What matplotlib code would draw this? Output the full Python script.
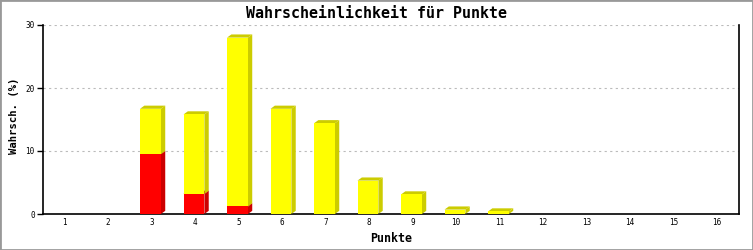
import matplotlib.pyplot as plt
from matplotlib.patches import Polygon, Rectangle

# data
punkte = list(range(1, 17))
rot = [0, 0, 9.5, 3.2, 1.2, 0, 0, 0, 0, 0, 0, 0, 0, 0, 0, 0]
gelb = [0, 0, 7.2, 12.6, 26.8, 16.7, 14.4, 5.3, 3.1, 0.7, 0.4, 0, 0, 0, 0, 0]

# 3d look
w = 0.48
dx, dy = 0.1, 0.5

fig = plt.figure(figsize=(7.53, 2.5), dpi=100)
ax = fig.add_axes([43/753, 36/250, 696/753, 189/250])
mono = 'DejaVu Sans Mono'


def bar3d(x, bottom, h, face, side):
    if h <= 0:
        return
    x0, x1 = x - w/2 - 0.03, x + w/2 - 0.03
    y0, y1 = bottom, bottom + h
    ax.add_patch(Polygon([(x1, y0), (x1 + dx, y0 + dy), (x1 + dx, y1 + dy), (x1, y1)],
                         closed=True, facecolor=side, edgecolor='none', zorder=3))
    ax.add_patch(Polygon([(x0, y1), (x0 + dx, y1 + dy), (x1 + dx, y1 + dy), (x1, y1)],
                         closed=True, facecolor=side, edgecolor='none', zorder=3))
    ax.add_patch(Rectangle((x0, y0), x1 - x0, h, facecolor=face, edgecolor='none', zorder=4))


for p, r, g in zip(punkte, rot, gelb):
    bar3d(p, 0, r, '#ff0000', '#cc0000')
    bar3d(p, r, g, '#ffff00', '#cccc00')

ax.set_xlim(0.5, 16.5)
ax.set_ylim(0, 30)
ax.set_xticks(punkte)
ax.set_yticks([0, 10, 20, 30])
ax.tick_params(axis='x', length=0, labelsize=5.5, pad=3)
ax.tick_params(axis='y', length=4, width=1, labelsize=5.5, pad=2)
for lab in ax.get_xticklabels() + ax.get_yticklabels():
    lab.set_family(mono)

ax.grid(axis='y', color='#bbbbbb', linestyle=(0, (2, 3)), linewidth=0.8)
ax.set_axisbelow(True)
ax.spines['top'].set_visible(False)
for s in ['left', 'bottom', 'right']:
    ax.spines[s].set_linewidth(1.2)

fig.text(0.5, 0.948, 'Wahrscheinlichkeit für Punkte', ha='center', va='center',
         family=mono, fontweight='bold', fontsize=10.8)
fig.text(391/753, 1 - 239/250, 'Punkte', ha='center', va='center',
         family=mono, fontweight='bold', fontsize=8.4)
fig.text(14/753, 1 - 116/250, 'Wahrsch. (%)', ha='center', va='center', rotation=90,
         family=mono, fontweight='bold', fontsize=7.6)

fig.patches.append(Rectangle((0, 0), 1, 1, transform=fig.transFigure, fill=False,
                             edgecolor='#999999', linewidth=2))

fig.savefig('out.png', dpi=100)
